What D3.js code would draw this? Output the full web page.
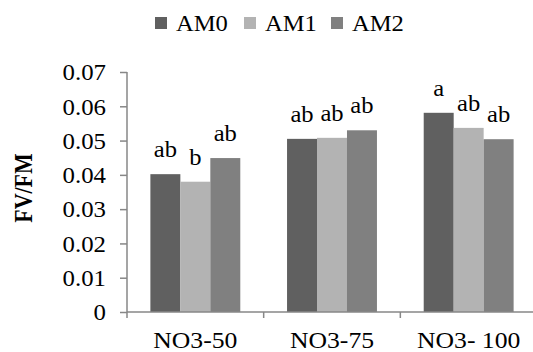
<!DOCTYPE html>
<html>
<head>
<meta charset="utf-8">
<script src="https://cdn.jsdelivr.net/npm/d3@7"></script>
<style>
  body { margin: 0; background: #fff; }
  text { font-family: "Liberation Serif", "Times New Roman", serif; fill: #000; }
</style>
</head>
<body>
<svg id="chart" width="533" height="352"></svg>
<script>
// data
const categories = ["NO3-50", "NO3-75", "NO3- 100"];
const series = ["AM0", "AM1", "AM2"];
const am0 = [0.0402, 0.0505, 0.0581];
const am1 = [0.0380, 0.0508, 0.0537];
const am2 = [0.0449, 0.0530, 0.0504];
const letters0 = ["ab", "ab", "a"];
const letters1 = ["b", "ab", "ab"];
const letters2 = ["ab", "ab", "ab"];
const yTicks = [0, 0.01, 0.02, 0.03, 0.04, 0.05, 0.06, 0.07];
const colors = ["#606060", "#b3b3b3", "#808080"];

const values = [am0, am1, am2];
const letters = [letters0, letters1, letters2];

const svg = d3.select("#chart");
const axisColor = "#878787";
const sx = 1.07; // the original picture is a bit wider than tall, text too

// place a text at (px,py) with a horizontal stretch
function place(sel, px, py, s) {
  sel.attr("x", 0).attr("y", 0)
    .attr("transform", (d, i) => {
      const X = typeof px === "function" ? px(d, i) : px;
      const Y = typeof py === "function" ? py(d, i) : py;
      return `translate(${X},${Y}) scale(${s || sx},1)`;
    });
}

const x = d3.scaleBand().domain(categories).range([127, 537]);
const xSub = d3.scaleBand().domain(series).range([0, x.bandwidth()]).paddingOuter(0.78);
const y = d3.scaleLinear().domain([0, 0.07]).range([312, 72]);

// y axis
const yAxis = svg.append("g")
  .attr("transform", "translate(127,0)")
  .call(d3.axisLeft(y).tickValues(yTicks).tickSize(7).tickPadding(14)
    .tickFormat(d => d === 0 ? "0" : d3.format(".2f")(d)));
yAxis.attr("font-family", null).attr("font-size", null);
yAxis.select(".domain").attr("stroke", axisColor).attr("stroke-width", 1.5)
  .attr("d", "M0,72V318");
yAxis.selectAll(".tick line").attr("stroke", axisColor).attr("stroke-width", 1.5);
yAxis.selectAll(".tick text")
  .attr("fill", "#000")
  .style("font-size", "23px")
  .attr("dy", null)
  .call(place, -21, 7.8, 1.08);

// bars
const groups = svg.append("g").selectAll("g")
  .data(categories)
  .join("g")
  .attr("transform", d => `translate(${x(d)},0)`);

const rows = (d, i) => series.map((s, j) => ({ s, j, v: values[j][i], l: letters[j][i] }));

groups.selectAll("rect")
  .data(rows)
  .join("rect")
  .attr("x", d => xSub(d.s))
  .attr("width", xSub.bandwidth())
  .attr("y", d => y(d.v))
  .attr("height", d => y(0) - y(d.v))
  .attr("fill", d => colors[d.j]);

groups.selectAll("text.sig")
  .data(rows)
  .join("text")
  .attr("class", "sig")
  .attr("text-anchor", "middle")
  .style("font-size", "23px")
  .text(d => d.l)
  .call(place, d => xSub(d.s) + xSub.bandwidth() / 2, d => y(d.v) - 17);

// x axis
const xAxis = svg.append("g").attr("transform", "translate(0,312)");
xAxis.append("line")
  .attr("x1", x.range()[0]).attr("x2", x.range()[1])
  .attr("stroke", axisColor).attr("stroke-width", 1.5);
xAxis.selectAll("line.tk")
  .data(categories.slice(1).concat([null]))
  .join("line")
  .attr("class", "tk")
  .attr("x1", d => d ? x(d) : x.range()[1])
  .attr("x2", d => d ? x(d) : x.range()[1])
  .attr("y1", 0).attr("y2", 6)
  .attr("stroke", axisColor).attr("stroke-width", 1.5);
xAxis.selectAll("text")
  .data(categories)
  .join("text")
  .attr("text-anchor", "middle")
  .style("font-size", "24px")
  .text(d => d)
  .call(place, d => x(d) + x.bandwidth() / 2, 36);

// y title
svg.append("text")
  .attr("transform", "translate(32,188) rotate(-90) scale(1,1.15)")
  .attr("text-anchor", "middle")
  .style("font-size", "22px")
  .style("font-weight", "bold")
  .text("FV/FM");

// legend
const legendX = [155, 244, 331];
const legend = svg.append("g").selectAll("g")
  .data(series)
  .join("g")
  .attr("transform", (d, i) => `translate(${legendX[i]},17)`);
legend.append("rect").attr("width", 12).attr("height", 12).attr("fill", (d, i) => colors[i]);
legend.append("text").style("font-size", "23px").text(d => d).call(place, 21, 13.5);
</script>
</body>
</html>
